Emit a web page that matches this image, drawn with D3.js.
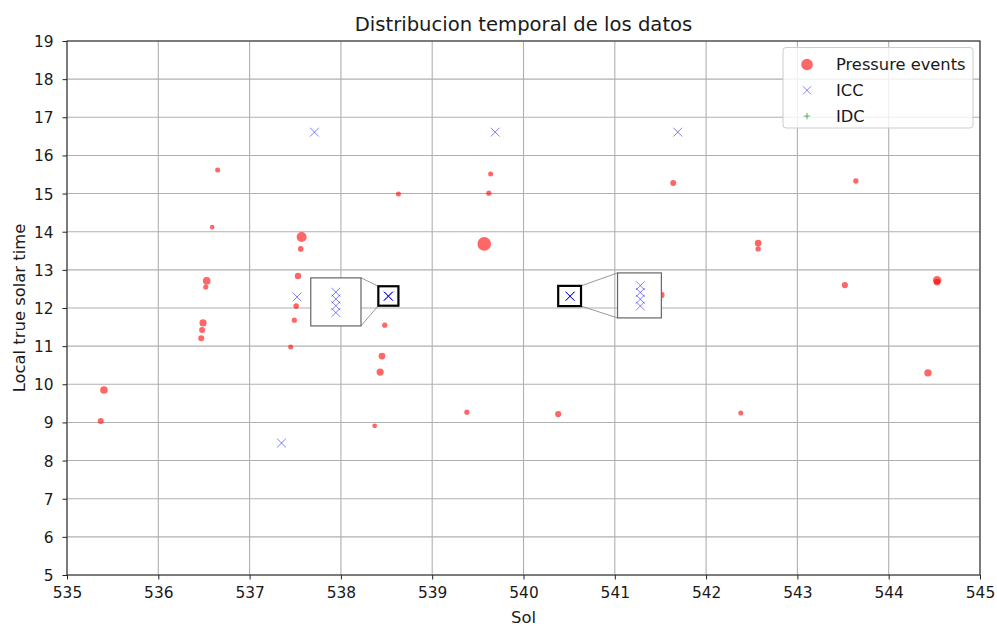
<!DOCTYPE html>
<html>
<head>
<meta charset="utf-8">
<script src="https://cdn.jsdelivr.net/npm/d3@7"></script>
<style>
  body { margin: 0; background: #fff; }
  svg { font-family: "DejaVu Sans", sans-serif; }
</style>
</head>
<body>
<svg id="chart" width="997" height="626"></svg>
<script>
// Pressure events: sol, local true solar time, marker radius
const pressureSol = [535.405, 535.37, 536.65, 536.59, 536.53, 536.52, 536.49, 536.48, 536.47,
  537.57, 537.56, 537.53, 537.51, 537.49, 537.45, 538.63, 538.48, 538.45, 538.43, 538.37,
  539.64, 539.62, 539.57, 539.38, 540.38, 541.51, 541.64, 542.57, 542.57, 542.38,
  543.64, 543.52, 544.53, 544.53, 544.43];
const pressureLTST = [9.85, 9.04, 15.62, 14.12, 12.71, 12.55, 11.61, 11.42, 11.21,
  13.86, 13.55, 12.84, 12.05, 11.68, 10.98, 14.99, 11.55, 10.74, 10.32, 8.91,
  15.51, 15.01, 13.68, 9.27, 9.22, 12.34, 15.28, 13.70, 13.55, 9.25,
  15.33, 12.60, 12.73, 12.68, 10.30];
const pressureSize = [3.8, 3.0, 2.5, 2.3, 3.8, 2.6, 3.6, 3.0, 3.0,
  5.0, 2.8, 3.2, 2.8, 2.6, 2.5, 2.5, 2.6, 3.4, 3.6, 2.4,
  2.5, 2.6, 6.8, 2.6, 3.1, 3.2, 3.0, 3.3, 2.7, 2.5,
  2.7, 3.1, 4.2, 3.4, 3.7];

// ICC detections (repeated entries are simultaneous detections)
const iccSol = [537.71, 539.69, 541.69, 537.52, 537.35,
  538.52, 538.52, 538.52, 538.52,
  540.51, 540.51, 540.51, 540.51];
const iccLTST = [16.61, 16.61, 16.61, 12.29, 8.46,
  12.31, 12.31, 12.31, 12.31,
  12.31, 12.31, 12.31, 12.31];

// IDC detections (none in this window)
const idcSol = [];
const idcLTST = [];

const xTicks = d3.range(535, 546, 1);
const yTicks = d3.range(5, 20, 1);

// Zoomed regions: [sol0, sol1, ltst0, ltst1] and where each inset sits (in main data units)
const zoomRegions = [
  { src: [538.41, 538.63, 12.06, 12.57], dst: [537.67, 538.22, 11.53, 12.79], link: "left" },
  { src: [540.38, 540.63, 12.05, 12.58], dst: [541.03, 541.51, 11.74, 12.92], link: "right" }
];

const svg = d3.select("#chart");
const margin = { left: 67, right: 17, top: 41, bottom: 51 };
const W = 997, H = 626;
const x = d3.scaleLinear().domain([535, 545]).range([margin.left, W - margin.right]);
const y = d3.scaleLinear().domain([5, 19]).range([H - margin.bottom, margin.top]);

const red = "rgba(255,0,0,0.6)";
const blue = "rgba(0,0,255,0.5)";
const green = "rgba(0,128,0,0.6)";
const textColor = "#1a1a1a";

// Grid
const grid = svg.append("g");
grid.selectAll(".gx").data(xTicks).join("line")
  .attr("x1", d => x(d)).attr("x2", d => x(d))
  .attr("y1", y(19)).attr("y2", y(5))
  .attr("stroke", "#b0b0b0").attr("stroke-width", 1.1);
grid.selectAll(".gy").data(yTicks).join("line")
  .attr("y1", d => y(d)).attr("y2", d => y(d))
  .attr("x1", x(535)).attr("x2", x(545))
  .attr("stroke", "#b0b0b0").attr("stroke-width", 1.1);

function crossPath(cx, cy, s) {
  return `M${cx - s},${cy - s}L${cx + s},${cy + s}M${cx - s},${cy + s}L${cx + s},${cy - s}`;
}
function plusPath(cx, cy, s) {
  return `M${cx - s},${cy}L${cx + s},${cy}M${cx},${cy - s}L${cx},${cy + s}`;
}

// Data marks
const marks = svg.append("g");
marks.selectAll("circle.p").data(pressureSol).join("circle")
  .attr("cx", d => x(d))
  .attr("cy", (d, i) => y(pressureLTST[i]))
  .attr("r", (d, i) => pressureSize[i])
  .attr("fill", red);
marks.selectAll("path.icc").data(iccSol).join("path")
  .attr("d", (d, i) => crossPath(x(d), y(iccLTST[i]), 4.4))
  .attr("stroke", blue).attr("stroke-width", 1).attr("fill", "none");
marks.selectAll("path.idc").data(idcSol).join("path")
  .attr("d", (d, i) => plusPath(x(d), y(idcLTST[i]), 4.4))
  .attr("stroke", green).attr("stroke-width", 1).attr("fill", "none");

// Axes
const xAxis = d3.axisBottom(x).tickValues(xTicks).tickSize(4.5).tickPadding(8).tickFormat(d3.format("d"));
const yAxis = d3.axisLeft(y).tickValues(yTicks).tickSize(4.5).tickPadding(9).tickFormat(d3.format("d"));
const gx = svg.append("g").attr("transform", `translate(0,${y(5)})`).call(xAxis);
const gy = svg.append("g").attr("transform", `translate(${x(535)},0)`).call(yAxis);
[gx, gy].forEach(g => {
  g.select(".domain").remove();
  g.selectAll("text").attr("font-size", 15.4).attr("fill", textColor).attr("font-family", "DejaVu Sans");
  g.selectAll("line").attr("stroke", "#222");
});
gx.selectAll("text").attr("dy", "0.71em");
gy.selectAll("text").attr("dy", "0.36em");

// Frame
svg.append("rect")
  .attr("x", x(535)).attr("y", y(19))
  .attr("width", x(545) - x(535)).attr("height", y(5) - y(19))
  .attr("fill", "none").attr("stroke", "#222").attr("stroke-width", 1);

// Zoom insets with connector lines; simultaneous detections are stacked inside the inset
zoomRegions.forEach(z => {
  const [s0, s1, t0, t1] = z.src;
  const [d0, d1, u0, u1] = z.dst;
  const bx0 = x(s0), bx1 = x(s1), by0 = y(t1), by1 = y(t0);
  const ix0 = x(d0), ix1 = x(d1), iy0 = y(u1), iy1 = y(u0);
  const g = svg.append("g");
  const conn = z.link === "left"
    ? [[bx0, by0, ix1, iy0], [bx0, by1, ix1, iy1]]
    : [[bx1, by0, ix0, iy0], [bx1, by1, ix0, iy1]];
  conn.forEach(c => g.append("line")
    .attr("x1", c[0]).attr("y1", c[1]).attr("x2", c[2]).attr("y2", c[3])
    .attr("stroke", "#808080").attr("stroke-width", 0.8));
  g.append("rect").attr("x", ix0).attr("y", iy0)
    .attr("width", ix1 - ix0).attr("height", iy1 - iy0)
    .attr("fill", "#fff").attr("stroke", "#666").attr("stroke-width", 1.2);
  const xi = d3.scaleLinear().domain([s0, s1]).range([ix0, ix1]);
  const yi = d3.scaleLinear().domain([t0, t1]).range([iy1, iy0]);
  const inside = iccSol.map((d, i) => i).filter(i =>
    iccSol[i] >= s0 && iccSol[i] <= s1 && iccLTST[i] >= t0 && iccLTST[i] <= t1);
  const n = inside.length, step = 6.8;
  g.selectAll("path.z").data(inside).join("path")
    .attr("d", (i, k) => crossPath(xi(iccSol[i]), yi(iccLTST[i]) + (k - (n - 1) / 2) * step, 4.4))
    .attr("stroke", blue).attr("stroke-width", 1).attr("fill", "none");
  g.append("rect").attr("x", bx0).attr("y", by0)
    .attr("width", bx1 - bx0).attr("height", by1 - by0)
    .attr("fill", "none").attr("stroke", "#000").attr("stroke-width", 2.2);
});

// Title and axis labels
svg.append("text").attr("x", (x(535) + x(545)) / 2).attr("y", 31)
  .attr("text-anchor", "middle").attr("font-size", 19.6).attr("fill", textColor)
  .text("Distribucion temporal de los datos");
svg.append("text").attr("x", (x(535) + x(545)) / 2).attr("y", 623)
  .attr("text-anchor", "middle").attr("font-size", 16.4).attr("fill", textColor)
  .text("Sol");
svg.append("text")
  .attr("transform", `translate(25,${(y(5) + y(19)) / 2}) rotate(-90)`)
  .attr("text-anchor", "middle").attr("font-size", 16.4).attr("fill", textColor)
  .text("Local true solar time");

// Legend
const lg = svg.append("g").attr("transform", "translate(783,47.5)");
lg.append("rect").attr("width", 190).attr("height", 80.5).attr("rx", 3)
  .attr("fill", "rgba(255,255,255,0.8)").attr("stroke", "#ccc").attr("stroke-width", 1);
const legendItems = [
  { label: "Pressure events", type: "circle" },
  { label: "ICC", type: "cross" },
  { label: "IDC", type: "plus" }
];
legendItems.forEach((it, i) => {
  const cy = 17 + i * 25.8;
  if (it.type === "circle") {
    lg.append("circle").attr("cx", 24).attr("cy", cy).attr("r", 5.8).attr("fill", red);
  } else if (it.type === "cross") {
    lg.append("path").attr("d", crossPath(24, cy, 4)).attr("stroke", blue).attr("fill", "none");
  } else {
    lg.append("path").attr("d", plusPath(24, cy, 3.2)).attr("stroke", green).attr("fill", "none");
  }
  lg.append("text").attr("x", 53).attr("y", cy + 5.5).attr("font-size", 16.3).attr("fill", textColor)
    .text(it.label);
});
</script>
</body>
</html>
